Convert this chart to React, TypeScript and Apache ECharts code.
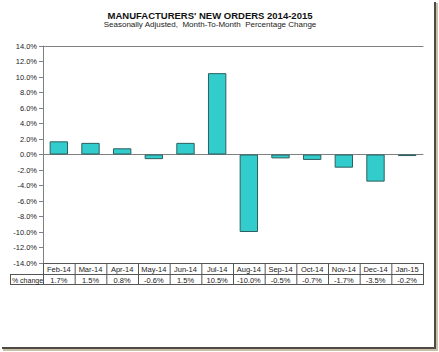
import React, { useEffect, useRef } from "react";
import * as echarts from "echarts";

const categories = ["Feb-14", "Mar-14", "Apr-14", "May-14", "Jun-14", "Jul-14", "Aug-14", "Sep-14", "Oct-14", "Nov-14", "Dec-14", "Jan-15"];
const changes = [1.7, 1.5, 0.8, -0.6, 1.5, 10.5, -10.0, -0.5, -0.7, -1.7, -3.5, -0.2];
const rowLabel = "% change";
const titleText = "MANUFACTURERS' NEW ORDERS 2014-2015";
const subtitleText = "Seasonally Adjusted,  Month-To-Month  Percentage Change";

const W = 439;
const H = 352;
const GL = 43;
const GT = 46;
const GW = 380;
const GH = 217;
const FONT = "'Liberation Sans', Arial, sans-serif";

export default function App() {
  const ref = useRef<HTMLDivElement>(null);
  useEffect(() => {
    document.body.style.margin = "0";
    const chart = echarts.init(ref.current!, null, { renderer: "svg" });
    const n = categories.length;
    const cw = GW / n;
    const r1 = GT + GH;
    const r2 = r1 + 11;
    const r3 = r2 + 10;
    const lineCol = "#555555";
    const g: any[] = [];
    const hline = (x1: number, x2: number, y: number) =>
      g.push({ type: "line", shape: { x1, y1: y + 0.5, x2, y2: y + 0.5 }, style: { stroke: lineCol, lineWidth: 1 }, silent: true });
    const vline = (x: number, y1: number, y2: number) =>
      g.push({ type: "line", shape: { x1: x + 0.5, y1, x2: x + 0.5, y2 }, style: { stroke: lineCol, lineWidth: 1 }, silent: true });
    hline(GL, GL + GW, r1);
    hline(10, GL + GW, r2);
    hline(10, GL + GW, r3);
    for (let i = 0; i <= n; i++) vline(GL + i * cw, r1, r3 + 1);
    vline(10, r2, r3 + 1);
    const ts = { fontSize: 7.5, fontFamily: FONT, fill: "#222", align: "center", verticalAlign: "middle" };
    categories.forEach((c, i) => {
      g.push({ type: "text", x: GL + (i + 0.5) * cw, y: (r1 + r2) / 2 + 1, style: { ...ts, text: c }, silent: true });
      g.push({ type: "text", x: GL + (i + 0.5) * cw, y: (r2 + r3) / 2 + 1, style: { ...ts, text: changes[i].toFixed(1) + "%" }, silent: true });
    });
    g.push({ type: "text", x: (10 + GL) / 2 + 1, y: (r2 + r3) / 2 + 1, style: { ...ts, fontSize: 7, text: rowLabel }, silent: true });
    // frame shadow
    g.push({ type: "rect", shape: { x: 434, y: 2, width: 2, height: 348 }, style: { fill: "#4e4a44" }, silent: true });
    g.push({ type: "rect", shape: { x: 436, y: 3, width: 2, height: 348 }, style: { fill: "#c9c0a8" }, silent: true });
    g.push({ type: "rect", shape: { x: 2, y: 347, width: 434, height: 2 }, style: { fill: "#4e4a44" }, silent: true });
    g.push({ type: "rect", shape: { x: 3, y: 349, width: 435, height: 2 }, style: { fill: "#c9c0a8" }, silent: true });

    chart.setOption({
      animation: false,
      backgroundColor: "#ffffff",
      title: {
        text: titleText,
        subtext: subtitleText,
        left: 205,
        textAlign: "center",
        top: 5,
        itemGap: 0,
        textStyle: { fontSize: 9.5, fontWeight: "bold", color: "#111", fontFamily: FONT },
        subtextStyle: { fontSize: 8, color: "#222", fontFamily: FONT },
      },
      grid: { left: GL, top: GT, width: GW, height: GH, containLabel: false },
      xAxis: [
        {
          type: "category",
          data: categories,
          axisLine: { show: true, onZero: true, lineStyle: { color: "#808080", width: 1 } },
          axisTick: { show: false },
          axisLabel: { show: false },
          splitLine: { show: false },
        },
        {
          type: "category",
          position: "top",
          data: categories,
          axisLine: { show: true, onZero: false, lineStyle: { color: "#808080", width: 1 } },
          axisTick: { show: false },
          axisLabel: { show: false },
        },
      ],
      yAxis: {
        type: "value",
        min: -14,
        max: 14,
        interval: 2,
        axisLine: { show: true, lineStyle: { color: "#808080", width: 1 } },
        axisTick: { show: true, length: 4, lineStyle: { color: "#808080" } },
        axisLabel: { fontSize: 7.5, color: "#222", fontFamily: FONT, margin: 6, formatter: (v: number) => v.toFixed(1) + "%" },
        splitLine: { show: false },
      },
      series: [
        {
          type: "bar",
          data: changes,
          barCategoryGap: "42%",
          itemStyle: { color: "#33CCCC", borderColor: "#2d5f5f", borderWidth: 1 },
        },
      ],
      graphic: g,
    });
    return () => chart.dispose();
  }, []);
  return <div ref={ref} style={{ position: "absolute", left: 0, top: 0, width: W, height: H, background: "#fff" }} />;
}
